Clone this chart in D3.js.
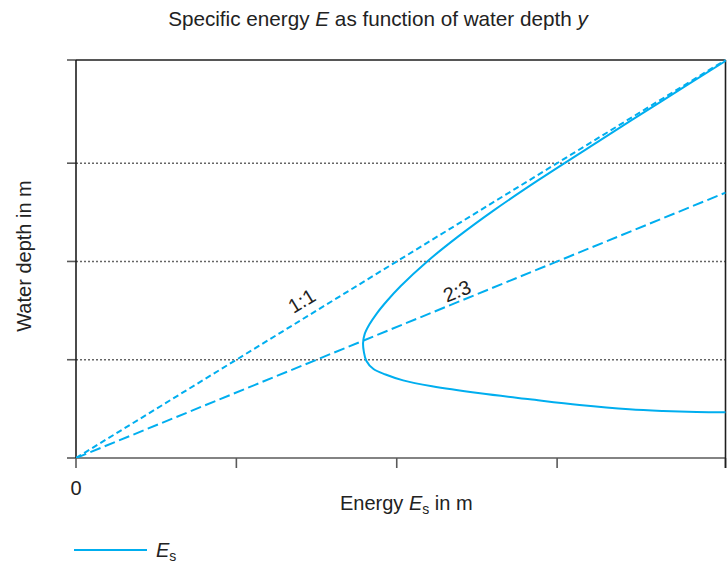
<!DOCTYPE html>
<html>
<head>
<meta charset="utf-8">
<script src="https://cdn.jsdelivr.net/npm/d3@7"></script>
<style>
  html, body { margin: 0; padding: 0; background: #fff; }
  svg { display: block; font-family: "Liberation Sans", Arial, Helvetica, sans-serif; }
</style>
</head>
<body>
<svg id="chart" width="728" height="565"></svg>
<script>
// Axis extents (metres)
const energyDomain = [0, 4.05];
const depthDomain = [0, 4.05];

// Tick positions and labels
const energyTicks = [0, 1, 2, 3, 4.05];
const energyTickLabels = ["0"];
const depthTicks = [0, 1, 2, 3, 4.05];
const depthGrid = [1, 2, 3];

// Specific energy curve, traced from the supercritical tail up through
// the critical point to the subcritical branch
const curveEnergy = [4.05, 3.87, 3.66, 3.45, 3.14, 2.83, 2.52, 2.22, 2.04, 1.93, 1.855, 1.81, 1.795,
                     1.79, 1.80, 1.83, 1.875, 1.94, 2.025, 2.19, 2.38, 2.605, 2.885, 3.275, 3.655, 4.05];
const curveDepth  = [0.465, 0.468, 0.478, 0.495, 0.539, 0.597, 0.658, 0.73, 0.79, 0.85, 0.905, 0.99, 1.08,
                     1.17, 1.26, 1.36, 1.47, 1.60, 1.75, 2.0, 2.25, 2.52, 2.83, 3.24, 3.635, 4.04];

// Reference lines y = E (1:1) and y = 2/3 E (2:3)
const ratioLines = [
  { name: "1:1", energy: [0, 4.05], depth: [0, 4.05], dash: "6,3.5", labelAt: 1.46, offset: -9 },
  { name: "2:3", energy: [0, 4.05], depth: [0, 2.7], dash: "11,4.5", labelAt: 2.40, offset: -3.5 }
];

const colors = { line: "#00aeef", frame: "#1e1e1e", axis: "#5a5a5a", grid: "#666666", text: "#222" };

const svg = d3.select("#chart");
const plotLeft = 76, plotRight = 725.5, plotTop = 60, plotBottom = 458;

const x = d3.scaleLinear().domain(energyDomain).range([plotLeft, plotRight]);
const y = d3.scaleLinear().domain(depthDomain).range([plotBottom, plotTop]);

// Title
const title = svg.append("text")
  .attr("x", 378).attr("y", 26)
  .attr("text-anchor", "middle")
  .attr("font-size", 20.7).attr("fill", colors.text);
title.append("tspan").text("Specific energy ");
title.append("tspan").attr("font-style", "italic").text("E");
title.append("tspan").text(" as function of water depth ");
title.append("tspan").attr("font-style", "italic").text("y");

// Horizontal dotted gridlines
svg.append("g").selectAll("line").data(depthGrid).join("line")
  .attr("x1", plotLeft).attr("x2", plotRight)
  .attr("y1", d => y(d)).attr("y2", d => y(d))
  .attr("stroke", colors.grid).attr("stroke-width", 1.4)
  .attr("stroke-dasharray", "2,2");

// Y axis ticks (pointing left)
svg.append("g").selectAll("line").data(depthTicks).join("line")
  .attr("x1", plotLeft - 9).attr("x2", plotLeft)
  .attr("y1", d => y(d)).attr("y2", d => y(d))
  .attr("stroke", colors.axis).attr("stroke-width", 1.6);

// X axis ticks (pointing down)
svg.append("g").selectAll("line").data(energyTicks).join("line")
  .attr("x1", d => x(d)).attr("x2", d => x(d))
  .attr("y1", plotBottom).attr("y2", plotBottom + 10)
  .attr("stroke", colors.axis).attr("stroke-width", 1.6);

// Frame
svg.append("line").attr("x1", plotLeft).attr("x2", plotRight).attr("y1", plotBottom).attr("y2", plotBottom)
  .attr("stroke", colors.axis).attr("stroke-width", 1.6);
svg.append("line").attr("x1", plotLeft).attr("x2", plotRight).attr("y1", plotTop).attr("y2", plotTop)
  .attr("stroke", colors.frame).attr("stroke-width", 1.6);
svg.append("line").attr("x1", plotLeft).attr("x2", plotLeft).attr("y1", plotTop).attr("y2", plotBottom)
  .attr("stroke", colors.frame).attr("stroke-width", 1.6);
svg.append("line").attr("x1", plotRight).attr("x2", plotRight).attr("y1", plotTop).attr("y2", plotBottom + 10)
  .attr("stroke", colors.frame).attr("stroke-width", 1.6);

// Tick label
svg.append("g").selectAll("text").data(energyTickLabels).join("text")
  .attr("x", (d, i) => x(energyTicks[i])).attr("y", 495)
  .attr("text-anchor", "middle").attr("font-size", 20).attr("fill", colors.text)
  .text(d => d);

// Clip for data marks
svg.append("clipPath").attr("id", "plot-clip").append("rect")
  .attr("x", plotLeft).attr("y", plotTop - 1)
  .attr("width", plotRight - plotLeft + 1).attr("height", plotBottom - plotTop + 1);
const plot = svg.append("g").attr("clip-path", "url(#plot-clip)");

// Ratio lines
const straight = d3.line().x(d => x(d[0])).y(d => y(d[1]));
ratioLines.forEach(r => {
  plot.append("path")
    .attr("d", straight(d3.zip(r.energy, r.depth)))
    .attr("fill", "none").attr("stroke", colors.line)
    .attr("stroke-width", 2).attr("stroke-dasharray", r.dash);
});

// Specific energy curve
const curve = d3.line().x(d => x(d[0])).y(d => y(d[1])).curve(d3.curveCatmullRom.alpha(0.5));
plot.append("path")
  .attr("d", curve(d3.zip(curveEnergy, curveDepth)))
  .attr("fill", "none").attr("stroke", colors.line).attr("stroke-width", 2);

// Ratio labels along the lines
ratioLines.forEach(r => {
  const slope = r.depth[1] / r.energy[1];
  const px = x(r.labelAt), py = y(r.labelAt * slope);
  const angle = Math.atan2(y(r.depth[1]) - y(0), x(r.energy[1]) - x(0)) * 180 / Math.PI;
  svg.append("text")
    .attr("transform", `translate(${px},${py}) rotate(${angle}) translate(0,${r.offset})`)
    .attr("text-anchor", "middle").attr("font-size", 20).attr("fill", colors.text)
    .text(r.name);
});

// Axis titles
const xt = svg.append("text").attr("x", 340).attr("y", 510)
  .attr("font-size", 20).attr("fill", colors.text);
xt.append("tspan").text("Energy ");
xt.append("tspan").attr("font-style", "italic").text("E");
xt.append("tspan").attr("font-size", 14).attr("dy", 4).text("s");
xt.append("tspan").attr("dy", -4).text(" in m");

svg.append("text")
  .attr("transform", "translate(31,256) rotate(-90)")
  .attr("text-anchor", "middle").attr("font-size", 20).attr("fill", colors.text)
  .text("Water depth in m");

// Legend
svg.append("line").attr("x1", 74).attr("x2", 147).attr("y1", 550).attr("y2", 550)
  .attr("stroke", colors.line).attr("stroke-width", 2);
const lg = svg.append("text").attr("x", 156).attr("y", 557)
  .attr("font-size", 20).attr("fill", colors.text);
lg.append("tspan").attr("font-style", "italic").text("E");
lg.append("tspan").attr("font-size", 14).attr("dy", 4).text("s");
</script>
</body>
</html>
